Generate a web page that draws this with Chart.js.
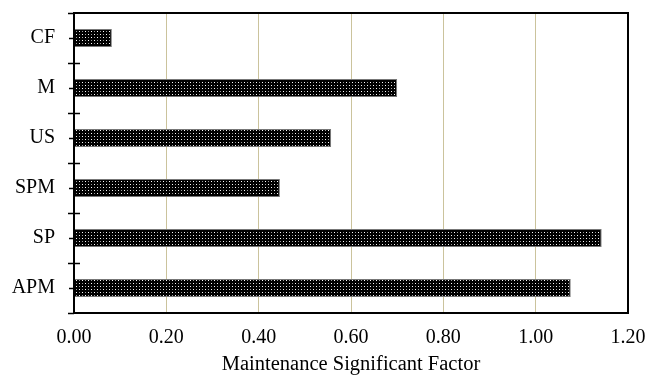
<!DOCTYPE html>
<html><head><meta charset="utf-8">
<script src="https://cdn.jsdelivr.net/npm/chart.js@4/dist/chart.umd.min.js"></script>
<style>html,body{margin:0;padding:0;background:#fff}#wrap{width:648px;height:377px}</style>
</head><body><div id="wrap"><canvas id="c" width="648" height="377"></canvas></div>
<script>
const categories = ["CF", "M", "US", "SPM", "SP", "APM"];
const values = [0.082, 0.70, 0.557, 0.446, 1.143, 1.076];
const xTicks = [0, 0.2, 0.4, 0.6, 0.8, 1.0, 1.2];

function makePattern() {
  const p = document.createElement('canvas');
  p.width = 6; p.height = 6;
  const g = p.getContext('2d');
  g.fillStyle = '#000'; g.fillRect(0, 0, 6, 6);
  g.fillStyle = '#fff';
  g.fillRect(1, 1, 1, 1); g.fillRect(4, 4, 1, 1);
  g.fillStyle = '#999';
  g.fillRect(4, 1, 1, 1); g.fillRect(1, 4, 1, 1);
  return document.getElementById('c').getContext('2d').createPattern(p, 'repeat');
}

const frame = {
  id: 'frame',
  afterDraw(chart) {
    const ctx = chart.ctx, a = chart.chartArea, y = chart.scales.y;
    ctx.save();
    ctx.strokeStyle = '#000';
    ctx.lineWidth = 2;
    ctx.strokeRect(a.left, a.top, a.right - a.left, a.bottom - a.top);
    ctx.lineWidth = 1.5;
    ctx.beginPath();
    for (let i = 0; i <= categories.length; i++) {
      const py = Math.round(y.getPixelForValue(i - 0.5)) + 0.5;
      ctx.moveTo(a.left - 6, py); ctx.lineTo(a.left + (i === 0 || i === categories.length ? 0 : 6), py);
    }
    for (let i = 0; i < categories.length; i++) {
      const py = Math.round(y.getPixelForValue(i)) + 0.5;
      ctx.moveTo(a.left - 5, py); ctx.lineTo(a.left, py);
    }
    ctx.stroke();
    ctx.restore();
  }
};

new Chart(document.getElementById('c'), {
  type: 'bar',
  data: {
    labels: categories,
    datasets: [{
      data: values,
      backgroundColor: makePattern(),
      borderColor: '#777',
      borderWidth: 1,
      borderSkipped: 'start',
      barPercentage: 0.36,
      categoryPercentage: 1.0
    }]
  },
  options: {
    indexAxis: 'y',
    responsive: false,
    animation: false,
    layout: { padding: { top: 13, right: 20, left: 0, bottom: 0 } },
    plugins: { legend: { display: false }, tooltip: { enabled: false } },
    scales: {
      x: {
        min: 0, max: 1.2,
        afterBuildTicks(s) { s.ticks = xTicks.map(v => ({ value: v })); },
        ticks: {
          callback: v => Number(v).toFixed(2),
          color: '#000',
          font: { family: 'Liberation Serif', size: 20 },
          padding: 13
        },
        grid: { color: '#cbc39c', lineWidth: 1, drawTicks: false },
        border: { display: true, color: '#000', width: 2 },
        title: {
          display: true, text: 'Maintenance Significant Factor', color: '#000',
          font: { family: 'Liberation Serif', size: 20.5 }, padding: { top: 0, bottom: 0 }
        },
        afterFit(s) { s.height = 64; s.paddingLeft = 0; s.paddingRight = 0; }
      },
      y: {
        ticks: { color: '#000', font: { family: 'Liberation Serif', size: 20 }, padding: 11 },
        grid: { display: false },
        border: { display: true, color: '#000', width: 2 },
        afterFit(s) { s.width = 74; s.paddingTop = 0; s.paddingBottom = 0; }
      }
    }
  },
  plugins: [frame]
});
</script></body></html>
